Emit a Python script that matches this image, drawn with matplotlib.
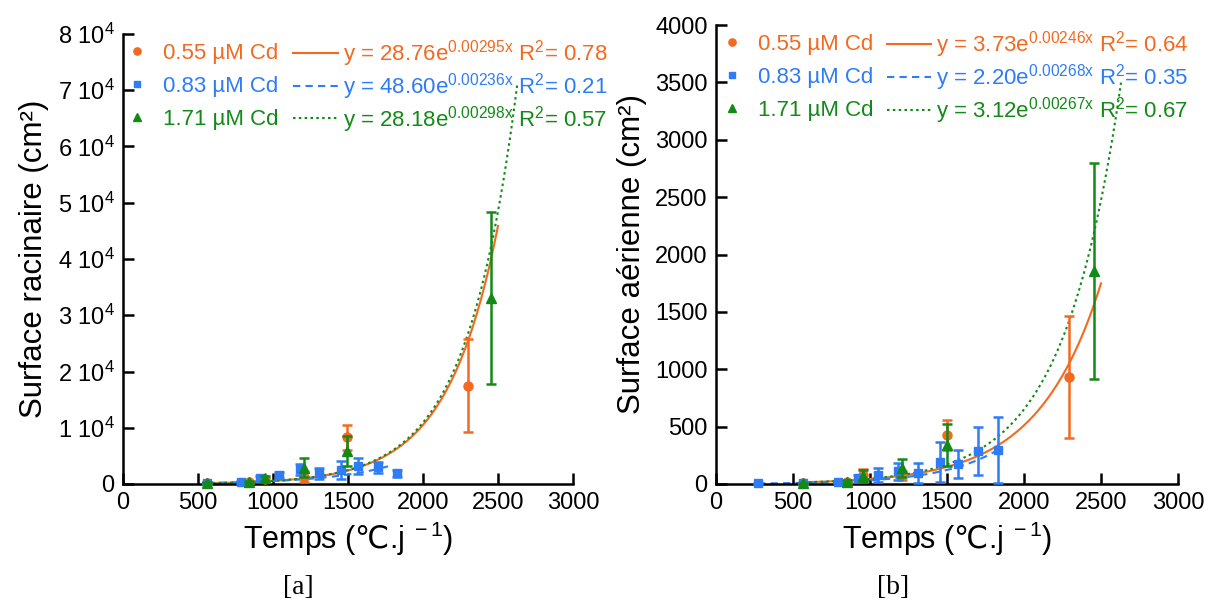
import numpy as np
import matplotlib as mpl
mpl.use('Agg')
import matplotlib.pyplot as plt
from matplotlib.lines import Line2D
from matplotlib.ticker import FixedLocator, FuncFormatter

mpl.rcParams['font.family'] = ['Liberation Sans', 'DejaVu Sans']
mpl.rcParams['mathtext.fontset'] = 'custom'
mpl.rcParams['mathtext.rm'] = 'Liberation Sans'
mpl.rcParams['mathtext.it'] = 'Liberation Sans'
mpl.rcParams['mathtext.bf'] = 'Liberation Sans:bold'
mpl.rcParams['mathtext.sf'] = 'DejaVu Sans'

color = ["#F4691F", "#2E7CF6", "#138A17"]
labels = ["0.55 µM Cd", "0.83 µM Cd", "1.71 µM Cd"]

# Panel a : surface racinaire
a_x_055 = [560, 840, 947, 1207, 1493, 2300]
a_y_055 = [200, 300, 900, 1300, 8300, 17500]
a_e_055 = [100, 200, 300, 1000, 2200, 8300]
a_x_083 = [560, 787, 913, 1040, 1180, 1307, 1453, 1567, 1700, 1827]
a_y_083 = [100, 400, 1000, 1600, 2600, 1900, 2500, 3200, 3000, 1900]
a_e_083 = [100, 200, 400, 500, 1000, 1000, 1600, 1400, 1000, 600]
a_x_171 = [560, 840, 947, 1207, 1493, 2453]
a_y_171 = [200, 300, 1000, 2900, 5900, 33000]
a_e_171 = [100, 200, 400, 1700, 2700, 15300]
a_fit = [(28.76, 0.00295, 0.78), (48.60, 0.00236, 0.21), (28.18, 0.00298, 0.57)]
a_fit_range = [(560, 2500), (560, 1800), (560, 2630)]

# Panel b : surface aerienne
b_x_055 = [565, 850, 955, 1208, 1500, 2292]
b_y_055 = [5, 20, 78, 75, 427, 932]
b_e_055 = [3, 10, 55, 40, 131, 532]
b_x_083 = [273, 565, 792, 922, 1052, 1182, 1312, 1455, 1571, 1701, 1831]
b_y_083 = [5, 8, 20, 50, 78, 112, 98, 192, 174, 288, 296]
b_e_083 = [3, 5, 10, 30, 60, 75, 88, 174, 122, 209, 288]
b_x_171 = [565, 850, 955, 1208, 1500, 2455]
b_y_171 = [5, 20, 70, 137, 340, 1856]
b_e_171 = [5, 15, 55, 80, 183, 941]
b_fit = [(3.73, 0.00246, 0.64), (2.20, 0.00268, 0.35), (3.12, 0.00267, 0.67)]
b_fit_range = [(565, 2500), (273, 1831), (565, 2630)]

markers = ["o", "s", "^"]
msizes = [6.5, 6, 7]
fitstyle = ["-", (0, (3.5, 2.5)), (0, (1.2, 1.6))]

DPI = 100
fig = plt.figure(figsize=(1217/DPI, 601/DPI), dpi=DPI)
ax_a = fig.add_axes([123/1217, 117/601, 450/1217, 450/601])
ax_b = fig.add_axes([716/1217, 117/601, 462/1217, 459/601])


def draw(ax, xs, ys, es, fits, ranges, ymax, ystep, ylabel, fmt, leg_x1, leg_x2):
    for i in [0, 2, 1]:
        ax.errorbar(xs[i], ys[i], yerr=es[i], fmt=markers[i], color=color[i],
                    ms=msizes[i], elinewidth=1.8, capsize=3.5, capthick=1.8,
                    zorder=3 + i, clip_on=False)
    for i in range(3):
        a, b, r2 = fits[i]
        xf = np.linspace(ranges[i][0], ranges[i][1], 300)
        ax.plot(xf, a * np.exp(b * xf), color=color[i], linestyle=fitstyle[i],
                linewidth=1.5, zorder=2)
    ax.set_xlim(0, 3000)
    ax.set_ylim(0, ymax)
    ax.xaxis.set_major_locator(FixedLocator(np.arange(0, 3001, 500)))
    ax.yaxis.set_major_locator(FixedLocator(np.arange(0, ymax + 1, ystep)))
    ax.yaxis.set_major_formatter(FuncFormatter(fmt))
    ax.tick_params(direction='in', length=8, width=1.8, labelsize=17, pad=6)
    for s in ['top', 'right']:
        ax.spines[s].set_visible(False)
    for s in ['left', 'bottom']:
        ax.spines[s].set_linewidth(1.8)
    ax.set_xlabel(r"Temps ($\mathsf{℃}$.j$^{\ -1}$)", fontsize=22, labelpad=4)
    ax.set_ylabel(ylabel, fontsize=22.5, labelpad=6)

    h1 = [Line2D([], [], marker=markers[i], color=color[i], linestyle='none', ms=msizes[i] * 0.8)
          for i in range(3)]
    leg1 = ax.legend(h1, labels, loc='upper left', bbox_to_anchor=(leg_x1, 0.981),
                     frameon=False, fontsize=16, handlelength=1.0, handletextpad=0.68,
                     labelspacing=0.55, borderpad=0, borderaxespad=0)
    for i, t in enumerate(leg1.get_texts()):
        t.set_color(color[i])
    ax.add_artist(leg1)
    h2 = [Line2D([], [], color=color[i], linestyle=fitstyle[i], linewidth=1.5) for i in range(3)]
    eq = ["y = %.2fe$^{%.5fx}$ R$^{2}$= %.2f" % f for f in fits]
    leg2 = ax.legend(h2, eq, loc='upper left', bbox_to_anchor=(leg_x2, 0.991),
                     frameon=False, fontsize=16, handlelength=2.0, handletextpad=0.23,
                     labelspacing=0.09, borderpad=0, borderaxespad=0)
    for i, t in enumerate(leg2.get_texts()):
        t.set_color(color[i])
        t.set_clip_on(False)


def fmt_a(v, pos):
    if v == 0:
        return "0"
    return r"%d 10$^{4}$" % round(v / 10000)


def fmt_b(v, pos):
    return "%d" % v


draw(ax_a, [a_x_055, a_x_083, a_x_171], [a_y_055, a_y_083, a_y_171],
     [a_e_055, a_e_083, a_e_171], a_fit, a_fit_range, 80000, 10000,
     "Surface racinaire (cm²)", fmt_a, 0.0067, 0.378)
draw(ax_b, [b_x_055, b_x_083, b_x_171], [b_y_055, b_y_083, b_y_171],
     [b_e_055, b_e_083, b_e_171], b_fit, b_fit_range, 4000, 500,
     "Surface aérienne (cm²)", fmt_b, 0.011, 0.370)

fig.text(298/1217, 13/601, "[a]", family='Liberation Serif', fontsize=20, ha='center', va='center')
fig.text(893/1217, 13/601, "[b]", family='Liberation Serif', fontsize=20, ha='center', va='center')

fig.savefig("out.png", dpi=DPI)
